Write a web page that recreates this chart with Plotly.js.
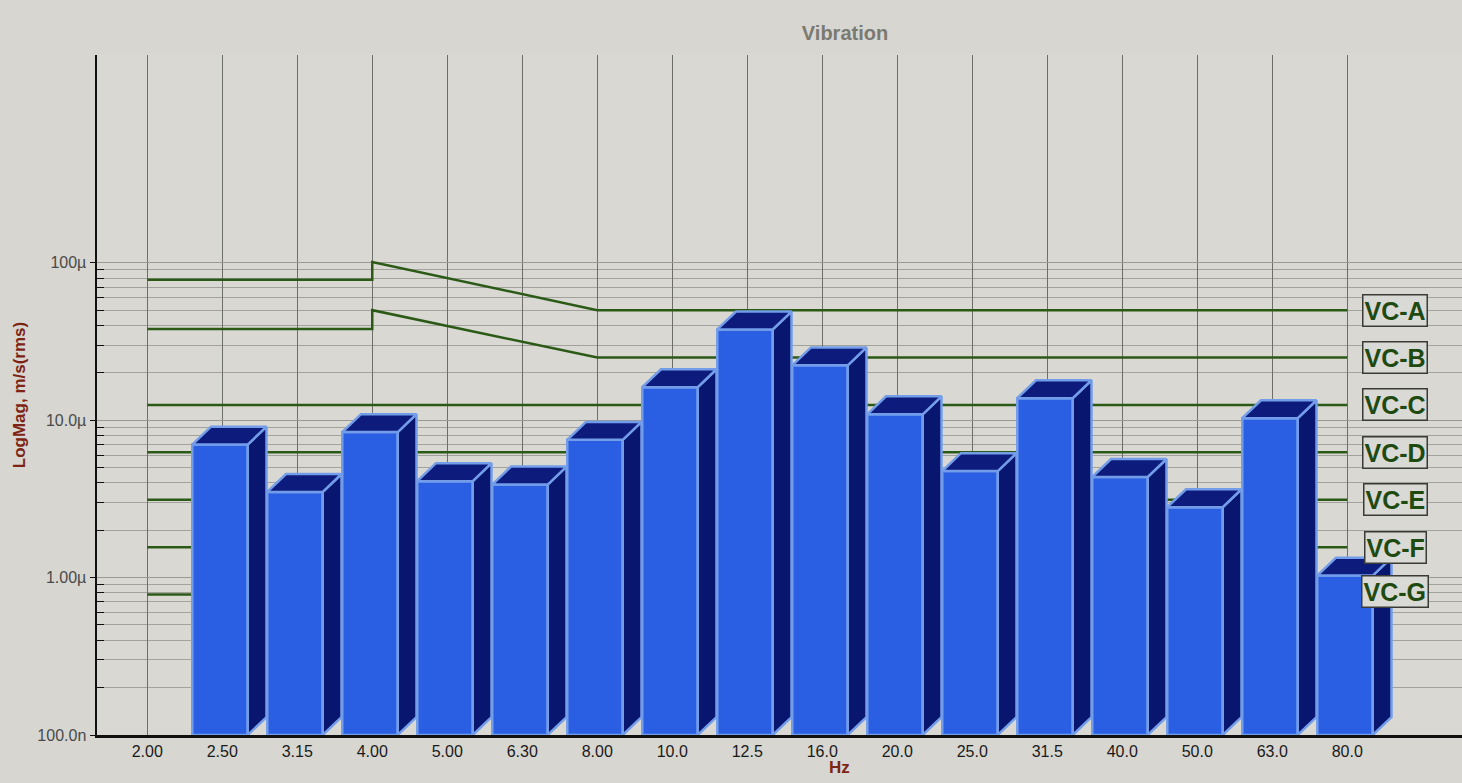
<!DOCTYPE html>
<html>
<head>
<meta charset="utf-8">
<script src="https://cdn.plot.ly/plotly-3.0.1.min.js"></script>
<style>
  html, body { margin: 0; padding: 0; background: #d7d6d1; }
  #chart { width: 1462px; height: 783px; }
</style>
</head>
<body>
<div id="chart"></div>
<script>
// ---- data ----
const freqLabels = ['2.00','2.50','3.15','4.00','5.00','6.30','8.00','10.0','12.5','16.0','20.0','25.0','31.5','40.0','50.0','63.0','80.0'];
const bandValues = [null, 7.0e-6, 3.5e-6, 8.4e-6, 4.1e-6, 3.9e-6, 7.5e-6, 16.2e-6, 37.7e-6, 22.3e-6, 10.9e-6, 4.75e-6, 13.8e-6, 4.36e-6, 2.8e-6, 10.3e-6, 1.03e-6];

// VC-A / VC-B criteria curves (frequency label, value)
const vcA_freq = ['2.00','4.00','4.00','8.00','80.0'];
const vcA_vals = [78e-6, 78e-6, 101e-6, 50e-6, 50e-6];
const vcB_freq = ['2.00','4.00','4.00','8.00','80.0'];
const vcB_vals = [38e-6, 38e-6, 50e-6, 25e-6, 25e-6];
// flat criteria
const vcFlatNames = ['VC-C','VC-D','VC-E','VC-F','VC-G'];
const vcFlatVals = [12.5e-6, 6.25e-6, 3.12e-6, 1.56e-6, 0.78e-6];
const vcLabelNames = ['VC-A','VC-B','VC-C','VC-D','VC-E','VC-F','VC-G'];
const vcLabelVals = [50e-6, 25e-6, 12.5e-6, 6.25e-6, 3.12e-6, 1.56e-6, 0.82e-6];

const yTickVals = [1e-7, 1e-6, 1e-5, 1e-4];
const yTickText = ['100.0n', '1.00µ', '10.0µ', '100µ'];
const yMinorMantissas = [2, 3, 4, 5, 6, 7, 8, 9];
const yMinorDecades = [1e-7, 1e-6, 1e-5];

// ---- styling / geometry ----
const idx = l => freqLabels.indexOf(l);
const firstIdx = 0, lastIdx = freqLabels.length - 1;
const barW = 0.74;      // front face width (category units)
const depthX = 0.25;    // 3D depth offset in x (category units)
const depthK = 1.30;    // 3D depth offset in y (multiplicative on log axis)
const yBottom = 1e-7;
const green = '#2b5a17';
const minorTicks = [];
yMinorDecades.forEach(d => yMinorMantissas.forEach(m => minorTicks.push(m * d)));

const traces = [];

// criteria lines (drawn first, under the bars)
traces.push({x: vcA_freq.map(idx), y: vcA_vals, mode: 'lines', line: {color: green, width: 2.5}, hoverinfo: 'skip', name: 'VC-A'});
traces.push({x: vcB_freq.map(idx), y: vcB_vals, mode: 'lines', line: {color: green, width: 2.5}, hoverinfo: 'skip', name: 'VC-B'});
vcFlatVals.forEach((v, k) => {
  traces.push({x: [firstIdx, lastIdx], y: [v, v], mode: 'lines', line: {color: green, width: 2.5}, hoverinfo: 'skip', name: vcFlatNames[k]});
});

// 3D bars from data
const fx = [], fy = [], sx = [], sy = [], tx = [], ty = [];
bandValues.forEach((v, i) => {
  if (v == null) return;
  const xl = i - barW / 2 - 0.03, xr = i + barW / 2 - 0.03;
  fx.push(xl, xl, xr, xr, xl, null); fy.push(yBottom, v, v, yBottom, yBottom, null);
  sx.push(xr, xr, xr + depthX, xr + depthX, xr, null); sy.push(yBottom, v, v * depthK, yBottom * depthK, yBottom, null);
  tx.push(xl, xr, xr + depthX, xl + depthX, xl, null); ty.push(v, v, v * depthK, v * depthK, v, null);
});
const edge = {color: '#739de9', width: 2.5};
traces.push({x: fx, y: fy, mode: 'lines', fill: 'toself', fillcolor: '#2a5fe3', line: edge, hoverinfo: 'skip', name: 'front'});
traces.push({x: sx, y: sy, mode: 'lines', fill: 'toself', fillcolor: '#091670', line: edge, hoverinfo: 'skip', name: 'side'});
traces.push({x: tx, y: ty, mode: 'lines', fill: 'toself', fillcolor: '#0d1c7c', line: edge, hoverinfo: 'skip', name: 'top'});

// VC labels
const annotations = vcLabelNames.map((n, k) => ({
  xref: 'paper', yref: 'y', x: 0.951, y: Math.log10(vcLabelVals[k]),
  text: '<b>' + n + '</b>', showarrow: false,
  font: {family: 'Liberation Sans, Arial, sans-serif', size: 25, color: '#1e4a10'},
  bgcolor: '#d9d9d5', bordercolor: '#3a3a36', borderwidth: 1.5, borderpad: 1,
  xanchor: 'center', yanchor: 'middle'
}));
annotations.push({
  xref: 'paper', yref: 'paper', x: (840 - 97) / 1365, y: -(767 - 735) / 680, yanchor: 'middle',
  text: '<b>Hz</b>', showarrow: false,
  font: {family: 'Liberation Sans, Arial, sans-serif', size: 17, color: '#7d2414'}
});

const layout = {
  width: 1462, height: 783,
  margin: {l: 97, r: 0, t: 55, b: 48},
  paper_bgcolor: '#d7d6d1', plot_bgcolor: '#d9d8d3',
  showlegend: false,
  font: {family: 'Liberation Sans, Arial, sans-serif', color: '#222'},
  title: {text: '<b>Vibration</b>', x: 845 / 1462, xanchor: 'center', y: 0.958, yanchor: 'middle',
          font: {size: 20, color: '#7a7a72'}},
  xaxis: {
    range: [-0.67, 17.53], tickmode: 'array', tickvals: freqLabels.map((l, i) => i), ticktext: freqLabels,
    showgrid: true, gridcolor: '#6e6e6a', gridwidth: 1, zeroline: false,
    showline: true, linecolor: '#111', linewidth: 3, ticks: '',
    tickfont: {size: 16, color: '#1a1a1a'}
  },
  yaxis: {
    type: 'log', range: [-7, -2.68], tickmode: 'array', tickvals: yTickVals, ticktext: yTickText,
    showgrid: true, gridcolor: '#9a9a95', gridwidth: 1, zeroline: false,
    showline: true, linecolor: '#111', linewidth: 2.5, ticks: 'outside', ticklen: 5, tickcolor: '#111',
    tickfont: {size: 16, color: '#4a4a4a'},
    minor: {tickmode: 'array', tickvals: minorTicks, showgrid: true, gridcolor: '#a2a29d', gridwidth: 1, ticks: 'inside', ticklen: 7, tickcolor: '#111'},
    title: {text: '<b>LogMag, m/s(rms)</b>', standoff: 8, font: {size: 17, color: '#7d2414'}}
  },
  annotations: annotations
};

Plotly.newPlot('chart', traces, layout, {displayModeBar: false, staticPlot: true});
</script>
</body>
</html>
